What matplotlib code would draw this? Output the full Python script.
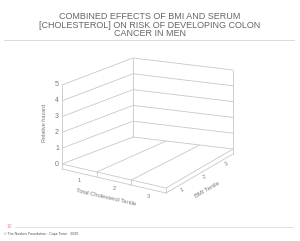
import numpy as np
import matplotlib.pyplot as plt

plt.rcParams["font.family"] = ["Liberation Sans", "DejaVu Sans"]

TITLE = ("COMBINED EFFECTS OF BMI AND SERUM\n"
         "[CHOLESTEROL] ON RISK OF DEVELOPING COLON\n"
         "CANCER IN MEN")
FOOTER = "\u00a9 The Noakes Foundation \u00b7 Cape Town \u00b7 2020"
PAGE = "10"

chol_tertiles = ["1", "2", "3"]
bmi_tertiles = ["1", "2", "3"]
hazard_ticks = [0, 1, 2, 3, 4, 5]
relative_hazard = []  # the slide shows the empty frame only

# pixel geometry of the 3-D frame (floor corners, px per hazard unit)
FLOOR = {"fl": (62, 164), "fr": (166, 188), "br": (233, 149), "bl": (133, 137)}
UNIT = 15.8
SLAB = 5
GRID = "#c8c8c8"
TXT = "#777777"


def proj(c, b, z=0.0):
    """chol position c, bmi position b, hazard z -> pixel (x, y)."""
    u = c / len(chol_tertiles)
    v = b / len(bmi_tertiles)
    fl, fr, br, bl = (np.array(FLOOR[k], float) for k in ("fl", "fr", "br", "bl"))
    p = (1 - u) * (1 - v) * fl + u * (1 - v) * fr + u * v * br + (1 - u) * v * bl
    return p[0], p[1] - z * UNIT


def seg(ax, a, b, dy=0.0):
    ax.plot([a[0], b[0]], [a[1] + dy, b[1] + dy], color=GRID, lw=0.6,
            solid_capstyle="butt")


fig = plt.figure(figsize=(3.0, 2.41), dpi=100)
ax = fig.add_axes([0, 0, 1, 1])
ax.set_xlim(0, 300)
ax.set_ylim(241, 0)
ax.axis("off")

nc, nb = len(chol_tertiles), len(bmi_tertiles)
zmax = hazard_ticks[-1]

# walls
for z in hazard_ticks:
    seg(ax, proj(0, 0, z), proj(0, nb, z))
    seg(ax, proj(0, nb, z), proj(nc, nb, z))
for c, b in [(0, 0), (0, nb), (nc, nb)]:
    seg(ax, proj(c, b, 0), proj(c, b, zmax))

# floor + slab
for c in range(1, nc + 1):
    seg(ax, proj(c, 0), proj(c, nb))
seg(ax, proj(0, 0), proj(nc, 0))
seg(ax, proj(0, 0), proj(nc, 0), dy=SLAB)
seg(ax, proj(nc, 0), proj(nc, nb), dy=SLAB)
for c in range(nc + 1):
    x, y = proj(c, 0)
    ax.plot([x, x], [y, y + SLAB], color=GRID, lw=0.6)
x, y = proj(nc, nb)
ax.plot([x, x], [y, y + SLAB], color=GRID, lw=0.6)

# tick labels
for z in hazard_ticks:
    x, y = proj(0, 0, z)
    ax.text(x - 3, y, str(z), ha="right", va="center", fontsize=5, color=TXT)
for i, lab in enumerate(chol_tertiles):
    x, y = proj(i + 0.5, 0)
    ax.text(x, y + 12, lab, ha="center", va="center", fontsize=4, color=TXT)
for i, lab in enumerate(bmi_tertiles):
    x, y = proj(nc, i + 0.5)
    ax.text(x + 5, y + 8, lab, ha="center", va="center", fontsize=4,
            color=TXT, rotation=30)

ax.text(45, 123, "Relative hazard", rotation=90, ha="center", va="center",
        fontsize=4, color=TXT)
ax.text(106, 197, "Total Cholesterol Tertile", rotation=-13, ha="center",
        va="center", fontsize=4.2, color=TXT, rotation_mode="anchor")
ax.text(207, 190, "BMI Tertile", rotation=30, ha="center", va="center",
        fontsize=4.2, color=TXT, rotation_mode="anchor")

# slide chrome
ax.text(150, 25, TITLE, ha="center", va="center", fontsize=6.5,
        color="#666666", linespacing=0.95)
ax.plot([4, 294], [40, 40], color="#d4d4d4", lw=0.6)
ax.plot([15, 293], [226.5, 226.5], color="#d4d4d4", lw=0.5)
ax.text(9, 226.5, PAGE, ha="center", va="center", fontsize=3.6, color="#f08c8c")
ax.text(4, 233.5, FOOTER, ha="left", va="center", fontsize=2.6, color="#555555")

fig.savefig("out.png", dpi=100, facecolor="white")
